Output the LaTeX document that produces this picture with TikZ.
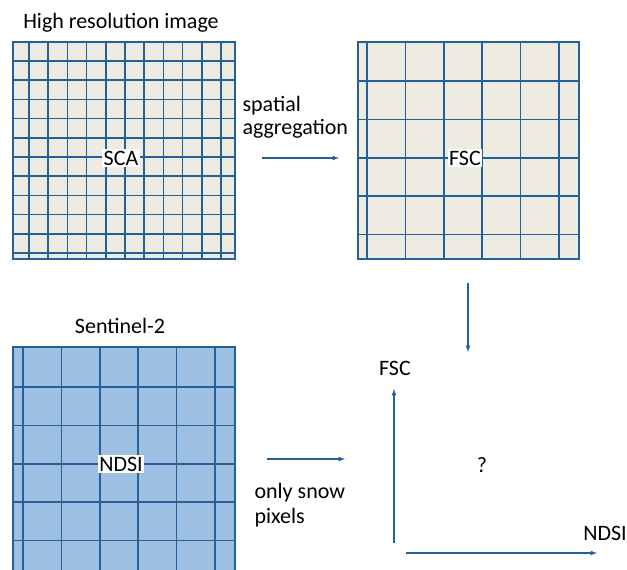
\documentclass[tikz,border=0pt]{standalone}
\usepackage{fontspec}
\setmainfont{Carlito}
\usetikzlibrary{arrows}
\definecolor{gridblue}{HTML}{24609A}
\definecolor{cream}{HTML}{EEECE1}
\definecolor{s2blue}{HTML}{9DC0E2}
\tikzset{
	grid/.style={draw=gridblue, line width=1.6pt},
	label/.style={fill=white, inner sep=1.5pt, font=\fontsize{22}{25}\selectfont},
	caption/.style={font=\fontsize{22}{25}\selectfont, align=left},
	flow/.style={->, >=latex, draw=gridblue, line width=1.2pt}
}

\begin{document}
\begin{tikzpicture}[x=1pt, y=-1pt]

	\useasboundingbox (0,0) rectangle (627,570);

	% --- high resolution image ---
	\fill[cream] (13,42) rectangle (235,259);
	\foreach \i in {0,...,10} \draw[grid] (29+19.2*\i, 42) -- ++(0,217);
	\foreach \i in {0,...,10} \draw[grid] (13, 61+19.2*\i) -- ++(222,0);
	\draw[grid] (13,42) rectangle (235,259);
	\node[caption] (hires) at (121,23) {High resolution image};
	\node[label] (sca) at (121,158) {SCA};

	% --- aggregated image ---
	\fill[cream] (358,42) rectangle (579,259);
	\foreach \i in {0,...,5} \draw[grid] (367+38.4*\i, 42) -- ++(0,217);
	\foreach \i in {0,...,4} \draw[grid] (358, 81+38.4*\i) -- ++(221,0);
	\draw[grid] (358,42) rectangle (579,259);
	\node[label] (fsc) at (465,158) {FSC};

	% --- sentinel-2 ---
	\fill[s2blue] (13,347) rectangle (235,572);
	\foreach \i in {0,...,5} \draw[grid] (23+38.4*\i, 347) -- ++(0,225);
	\foreach \i in {0,...,4} \draw[grid] (13, 387+38.4*\i) -- ++(222,0);
	\draw[grid] (13,572) -- (13,347) -- (235,347) -- (235,572);
	\node[caption] (s2) at (120,326) {Sentinel-2};
	\node[label] (ndsi) at (121,464) {NDSI};

	% spatial aggregation
	\node[caption, anchor=west] (agg) at (239,117) {spatial\\[-2pt]aggregation};
	\coordinate (agg-s) at (262,158);
	\coordinate (agg-e) at (339,158);
	\draw[flow] (agg-s) -- (agg-e);

	% down to the scatter plot
	\coordinate (down-s) at (468,283);
	\coordinate (down-e) at (468,352);
	\draw[flow] (down-s) -- (down-e);

	% only snow pixels
	\node[caption, anchor=west] (snow) at (251,505) {only snow\\pixels};
	\coordinate (snow-s) at (267,459);
	\coordinate (snow-e) at (345,459);
	\draw[flow] (snow-s) -- (snow-e);

	% --- scatter plot axes ---
	\coordinate (origin-y) at (394,543);
	\coordinate (top-y) at (394,389);
	\coordinate (origin-x) at (406,553);
	\coordinate (end-x) at (597,553);
	\draw[flow] (origin-y) -- (top-y);
	\draw[flow] (origin-x) -- (end-x);
	\node[caption] (fsc-axis) at (395,368) {FSC};
	\node[caption] (ndsi-axis) at (605,533) {NDSI};
	\node[caption] (unknown) at (482,465) {?};

\end{tikzpicture}
\end{document}
